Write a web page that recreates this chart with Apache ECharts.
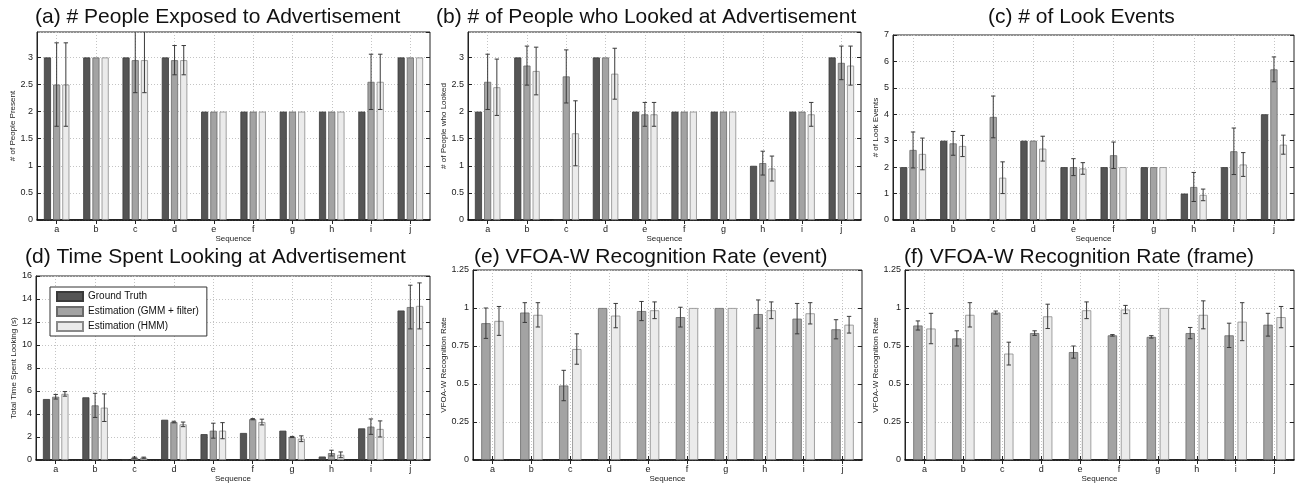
<!DOCTYPE html>
<html><head><meta charset="utf-8">
<script src="https://cdn.jsdelivr.net/npm/echarts@6/dist/echarts.min.js"></script>
<style>html,body{margin:0;padding:0;background:#fff}#c{width:1296px;height:483px}</style>
</head><body><div id="c"></div>
<script>
// ---------- data ----------
const categories = ['a','b','c','d','e','f','g','h','i','j'];
const seriesNames = ['Ground Truth','Estimation (GMM + filter)','Estimation (HMM)'];

// (a) # People Exposed
const A_gt     = [3,3,3,3,2,2,2,2,2,3];
const A_gmm    = [2.5,3,2.95,2.95,2,2,2,2,2.55,3];
const A_hmm    = [2.5,3,2.95,2.95,2,2,2,2,2.55,3];
const A_gmmErr = [0.77,0,0.6,0.27,0,0,0,0,0.51,0];
const A_hmmErr = [0.77,0,0.6,0.27,0,0,0,0,0.51,0];

// (b) # People who Looked
const B_gt     = [2,3,0,3,2,2,2,1,2,3];
const B_gmm    = [2.55,2.85,2.65,3,1.95,2,2,1.05,2,2.9];
const B_hmm    = [2.45,2.75,1.6,2.7,1.95,2,2,0.95,1.95,2.85];
const B_gmmErr = [0.51,0.36,0.49,0,0.22,0,0,0.22,0,0.31];
const B_hmmErr = [0.52,0.44,0.6,0.47,0.22,0,0,0.23,0.22,0.36];

// (c) # Look Events
const C_gt     = [2,3,0,3,2,2,2,1,2,4];
const C_gmm    = [2.65,2.9,3.9,3,2,2.45,2,1.25,2.6,5.7];
const C_hmm    = [2.5,2.8,1.6,2.7,1.95,2,2,0.95,2.1,2.85];
const C_gmmErr = [0.68,0.45,0.79,0,0.32,0.5,0,0.55,0.88,0.47];
const C_hmmErr = [0.6,0.4,0.6,0.47,0.22,0,0,0.22,0.45,0.36];

// (d) Time spent looking
const D_gt     = [5.3,5.45,0,3.5,2.25,2.35,2.55,0.3,2.75,13];
const D_gmm    = [5.5,4.75,0.2,3.3,2.55,3.55,2.0,0.6,2.9,13.3];
const D_hmm    = [5.75,4.55,0.2,3.1,2.55,3.3,1.85,0.45,2.7,13.4];
const D_gmmErr = [0.2,1.05,0.05,0.07,0.65,0.05,0.05,0.25,0.67,1.9];
const D_hmmErr = [0.2,1.2,0.05,0.2,0.7,0.25,0.25,0.25,0.7,2.0];

// (e) recognition rate (event)
const E_gmm    = [0.9,0.97,0.49,1,0.98,0.94,1,0.96,0.93,0.86];
const E_hmm    = [0.915,0.955,0.73,0.95,0.985,1,1,0.985,0.965,0.89];
const E_gmmErr = [0.1,0.065,0.1,0,0.063,0.065,0,0.093,0.1,0.063];
const E_hmmErr = [0.095,0.08,0.1,0.08,0.055,0,0,0.055,0.07,0.055];

// (f) recognition rate (frame)
const F_gmm    = [0.885,0.8,0.97,0.835,0.71,0.82,0.81,0.835,0.82,0.89];
const F_hmm    = [0.865,0.955,0.70,0.945,0.985,0.99,1,0.955,0.91,0.94];
const F_gmmErr = [0.03,0.05,0.01,0.015,0.04,0.005,0.008,0.037,0.08,0.075];
const F_hmmErr = [0.1,0.08,0.075,0.08,0.055,0.027,0,0.092,0.125,0.07];

// ---------- styling ----------
const FONT = '"Liberation Sans", Arial, Helvetica, sans-serif';
const COLORS = ['#555555','#a3a3a3','#ebebeb'];
const BORDERS = ['#3a3a3a','#6a6a6a','#8a8a8a'];

const panels = [
  {title:'(a) # People Exposed to Advertisement', tx:35, ty:7, yName:'# of People Present', nameGap:19,
   grid:{left:37,top:32,width:393,height:188}, max:3.47, interval:0.5,
   series:[[A_gt,null],[A_gmm,A_gmmErr],[A_hmm,A_hmmErr]], colorIdx:[0,1,2], bw:0.18, gap:0.3},
  {title:'(b) # of People who Looked at Advertisement', tx:436, ty:7, yName:'# of People who Looked', nameGap:19,
   grid:{left:468,top:32,width:393,height:188}, max:3.47, interval:0.5,
   series:[[B_gt,null],[B_gmm,B_gmmErr],[B_hmm,B_hmmErr]], colorIdx:[0,1,2], bw:0.18, gap:0.3},
  {title:'(c) # of Look Events', tx:988, ty:7, yName:'# of Look Events', nameGap:12,
   grid:{left:893,top:35,width:401,height:185}, max:7, interval:1,
   series:[[C_gt,null],[C_gmm,C_gmmErr],[C_hmm,C_hmmErr]], colorIdx:[0,1,2], bw:0.18, gap:0.3},
  {title:'(d) Time Spent Looking at Advertisement', tx:25, ty:247, yName:'Total Time Spent Looking (s)', nameGap:18,
   grid:{left:36,top:276,width:394,height:184}, max:16, interval:2,
   series:[[D_gt,null],[D_gmm,D_gmmErr],[D_hmm,D_hmmErr]], colorIdx:[0,1,2], bw:0.18, gap:0.3},
  {title:'(e) VFOA-W Recognition Rate (event)', tx:474, ty:247, yName:'VFOA-W Recognition Rate', nameGap:24,
   grid:{left:473,top:270,width:389,height:190}, max:1.25, interval:0.25,
   series:[[E_gmm,E_gmmErr],[E_hmm,E_hmmErr]], colorIdx:[1,2], bw:0.24, gap:0.4},
  {title:'(f) VFOA-W Recognition Rate (frame)', tx:904, ty:247, yName:'VFOA-W Recognition Rate', nameGap:24,
   grid:{left:905,top:270,width:389,height:190}, max:1.25, interval:0.25,
   series:[[F_gmm,F_gmmErr],[F_hmm,F_hmmErr]], colorIdx:[1,2], bw:0.24, gap:0.4}
];

const option = {
  animation:false,
  backgroundColor:'#fff',
  textStyle:{fontFamily:FONT},
  title:[], grid:[], xAxis:[], yAxis:[], series:[],
  legend:{
    data:seriesNames, orient:'vertical', left:50, top:287,
    itemWidth:26, itemHeight:9, itemGap:4, icon:'rect',
    padding:[4,8,4,6], borderColor:'#333', borderWidth:1, backgroundColor:'#fff',
    textStyle:{fontFamily:FONT, fontSize:10, color:'#111'}, selectedMode:false
  }
};

function errSeries(vals, errs, k, n, bwFrac, gapFrac, axIdx){
  const data = [];
  vals.forEach((v,i)=>{ if(errs[i]>0) data.push([i, v, errs[i]]); });
  return {
    type:'custom', name:'err'+axIdx+'_'+k, xAxisIndex:axIdx, yAxisIndex:axIdx,
    clip:true, z:5, silent:true, data, encode:{x:0,y:1},
    renderItem:(params, api)=>{
      const i = api.value(0), v = api.value(1), e = api.value(2);
      const band = api.size([1,0])[0];
      const bw = band*bwFrac, gap = bw*gapFrac;
      const off = (k-(n-1)/2)*(bw+gap);
      const t = api.coord([i, v+e]), b = api.coord([i, v-e]);
      const x = t[0]+off, cw = 2.2;
      const style = {stroke:'#3a3a3a', lineWidth:1, fill:null};
      return {type:'group', children:[
        {type:'line', shape:{x1:x,y1:t[1],x2:x,y2:b[1]}, style},
        {type:'line', shape:{x1:x-cw,y1:t[1],x2:x+cw,y2:t[1]}, style},
        {type:'line', shape:{x1:x-cw,y1:b[1],x2:x+cw,y2:b[1]}, style}
      ]};
    }
  };
}

panels.forEach((p, gi)=>{
  option.title.push({text:p.title, left:p.tx, top:p.ty, padding:0,
    textStyle:{fontFamily:FONT, fontSize:21, fontWeight:'normal', color:'#111'}});
  option.grid.push(Object.assign({show:true, borderColor:'#222', borderWidth:1,
    backgroundColor:'transparent', containLabel:false, outerBoundsMode:'none'}, p.grid));
  const bx = gi*2;
  option.xAxis.push({
    type:'category', gridIndex:gi, position:'bottom', data:categories,
    name:'Sequence', nameLocation:'middle', nameGap:14,
    nameTextStyle:{fontFamily:FONT, fontSize:8, color:'#222'},
    axisLine:{show:true, lineStyle:{color:'#000', width:1.5}},
    axisTick:{show:true, inside:true, alignWithLabel:true, length:4, lineStyle:{color:'#222'}},
    axisLabel:{fontFamily:FONT, fontSize:9, color:'#222', margin:5, interval:0},
    splitLine:{show:true, alignWithLabel:true, interval:0, lineStyle:{color:'#c4c4c4', type:[1,2], width:1}}
  });
  option.xAxis.push({
    type:'category', gridIndex:gi, position:'top', data:categories,
    axisLine:{show:false}, axisLabel:{show:false}, splitLine:{show:false},
    axisTick:{show:true, inside:true, alignWithLabel:true, length:4, lineStyle:{color:'#222'}}
  });
  const yBase = {type:'value', gridIndex:gi, min:0, max:p.max, interval:p.interval};
  option.yAxis.push(Object.assign({}, yBase, {
    position:'left', name:p.yName, nameLocation:'middle', nameGap:p.nameGap,
    nameTextStyle:{fontFamily:FONT, fontSize:8, color:'#222'},
    axisLine:{show:true, lineStyle:{color:'#222', width:1}},
    axisTick:{show:true, inside:true, length:4, lineStyle:{color:'#222'}},
    axisLabel:{fontFamily:FONT, fontSize:9, color:'#222', margin:4, showMaxLabel:(p.max % p.interval === 0)},
    splitLine:{show:true, lineStyle:{color:'#c4c4c4', type:[1,2], width:1}}
  }));
  option.yAxis.push(Object.assign({}, yBase, {
    position:'right', axisLine:{show:false}, axisLabel:{show:false}, splitLine:{show:false},
    axisTick:{show:true, inside:true, length:4, lineStyle:{color:'#222'}}
  }));
  const n = p.series.length;
  p.series.forEach(([vals, errs], k)=>{
    const ci = p.colorIdx[k];
    option.series.push({
      type:'bar', name:seriesNames[ci], xAxisIndex:bx, yAxisIndex:bx, data:vals,
      barWidth:(p.bw*100)+'%', barGap:(p.gap*100)+'%', z:2,
      itemStyle:{color:COLORS[ci], borderColor:BORDERS[ci], borderWidth:0.8},
      emphasis:{disabled:true}, silent:true
    });
  });
  p.series.forEach(([vals, errs], k)=>{
    if(errs) option.series.push(errSeries(vals, errs, k, n, p.bw, p.gap, bx));
  });
});

const chart = echarts.init(document.getElementById('c'), null, {renderer:'canvas'});
chart.setOption(option);
</script>
</body></html>
